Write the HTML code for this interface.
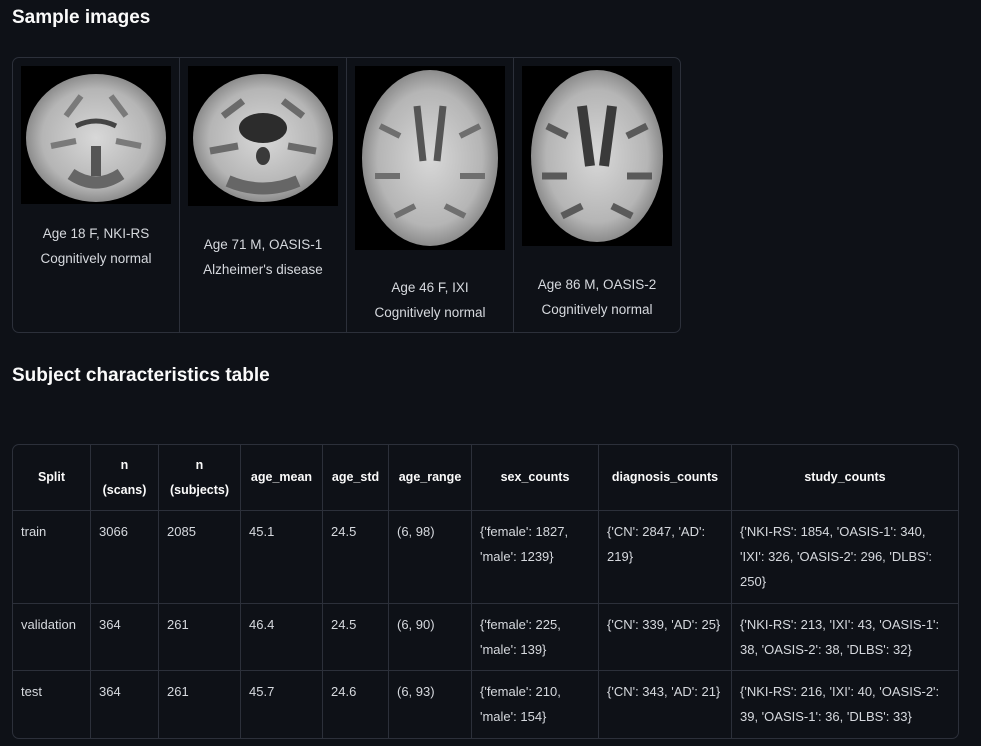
<!DOCTYPE html>
<html><head><meta charset="utf-8">
<style>
body{margin:0;background:#0e1117;width:981px;height:746px;overflow:hidden;font-family:"Liberation Sans",sans-serif;color:#fafafa;position:relative}
h2{position:absolute;left:12px;margin:0;font-size:19px;font-weight:bold;color:#fafafa}
.box{position:absolute;left:12px;top:57px;width:667px;height:274px;border:1px solid #2c303a;border-radius:7px}
.col{position:absolute;top:0;height:274px;width:166px;border-right:1px solid #2c303a}
.col:last-child{border-right:none}
.col svg{position:absolute;left:8px;top:8px}
.cap{position:absolute;left:0;width:166px;text-align:center;font-size:13.5px;line-height:25px;color:#d6d9de}
table{position:absolute;left:12px;top:444px;width:945px;table-layout:fixed;border-collapse:separate;border-spacing:0;border:1px solid #2c303a;border-radius:7px;font-size:13px;color:#d6d9de}
td,th{border-right:1px solid #2c303a;border-bottom:1px solid #2c303a;padding:0 8px;vertical-align:top;line-height:25px;text-align:left;overflow:hidden}
th{font-weight:bold;color:#fafafa;text-align:center;vertical-align:middle;height:65px;padding:0 4px;font-size:12.5px}
tr td:last-child,tr th:last-child{border-right:none}
tr:last-child td{border-bottom:none}
td{padding-top:8px}
</style></head><body>
<h2 style="top:7px">Sample images</h2>
<div class="box">
<svg width="0" height="0" style="position:absolute"><defs><radialGradient id="g" cx="50%" cy="50%" r="55%"><stop offset="0" stop-color="#d8d8d8"/><stop offset="0.7" stop-color="#b5b5b5"/><stop offset="1" stop-color="#7a7a7a"/></radialGradient></defs></svg>
<div class="col" style="left:0">
<svg width="150" height="138"><rect width="150" height="138" fill="#000"/><ellipse cx="75" cy="72" rx="70" ry="64" fill="url(#g)"/><path d="M45 50 L60 30 M105 50 L90 30 M30 80 L55 75 M120 80 L95 75" stroke="#7a7a7a" stroke-width="6"/><path d="M55 60 Q75 50 95 60" stroke="#444" stroke-width="5" fill="none"/><rect x="70" y="80" width="10" height="30" fill="#555"/><path d="M50 108 Q75 125 100 108" stroke="#666" stroke-width="12" fill="none"/></svg>
<div class="cap" style="top:163px">Age 18 F, NKI-RS<br>Cognitively normal</div></div>
<div class="col" style="left:167px">
<svg width="150" height="140"><rect width="150" height="140" fill="#000"/><ellipse cx="75" cy="72" rx="70" ry="64" fill="url(#g)"/><path d="M35 50 L55 35 M115 50 L95 35 M22 85 L50 80 M128 85 L100 80" stroke="#6a6a6a" stroke-width="7"/><ellipse cx="75" cy="62" rx="24" ry="15" fill="#2c2c2c"/><ellipse cx="75" cy="90" rx="7" ry="9" fill="#3a3a3a"/><path d="M40 115 Q75 130 110 115" stroke="#666" stroke-width="12" fill="none"/></svg>
<div class="cap" style="top:174px">Age 71 M, OASIS-1<br>Alzheimer's disease</div></div>
<div class="col" style="left:334px">
<svg width="150" height="184"><rect width="150" height="184" fill="#000"/><ellipse cx="75" cy="92" rx="68" ry="88" fill="url(#g)"/><path d="M62 40 L68 95 M88 40 L82 95" stroke="#555" stroke-width="7"/><path d="M25 60 L45 70 M125 60 L105 70 M20 110 L45 110 M130 110 L105 110 M40 150 L60 140 M110 150 L90 140" stroke="#6f6f6f" stroke-width="6"/></svg>
<div class="cap" style="top:217px">Age 46 F, IXI<br>Cognitively normal</div></div>
<div class="col" style="left:501px">
<svg width="150" height="180"><rect width="150" height="180" fill="#000"/><ellipse cx="75" cy="90" rx="66" ry="86" fill="url(#g)"/><path d="M60 40 L68 100 M90 40 L82 100" stroke="#3a3a3a" stroke-width="10"/><path d="M25 60 L45 70 M125 60 L105 70 M20 110 L45 110 M130 110 L105 110 M40 150 L60 140 M110 150 L90 140" stroke="#5a5a5a" stroke-width="7"/></svg>
<div class="cap" style="top:214px">Age 86 M, OASIS-2<br>Cognitively normal</div></div>
</div>
<h2 style="top:365px">Subject characteristics table</h2>
<table>
<colgroup><col style="width:78px"><col style="width:68px"><col style="width:82px"><col style="width:82px"><col style="width:66px"><col style="width:83px"><col style="width:127px"><col style="width:133px"><col style="width:226px"></colgroup>
<tr><th>Split</th><th>n<br>(scans)</th><th>n<br>(subjects)</th><th>age_mean</th><th>age_std</th><th>age_range</th><th>sex_counts</th><th>diagnosis_counts</th><th>study_counts</th></tr>
<tr style="height:93px"><td>train</td><td>3066</td><td>2085</td><td>45.1</td><td>24.5</td><td>(6, 98)</td><td>{'female': 1827, 'male': 1239}</td><td>{'CN': 2847, 'AD':<br>219}</td><td>{'NKI-RS': 1854, 'OASIS-1': 340, 'IXI': 326, 'OASIS-2': 296, 'DLBS': 250}</td></tr>
<tr style="height:67px"><td>validation</td><td>364</td><td>261</td><td>46.4</td><td>24.5</td><td>(6, 90)</td><td>{'female': 225, 'male': 139}</td><td>{'CN': 339, 'AD': 25}</td><td>{'NKI-RS': 213, 'IXI': 43, 'OASIS-1': 38, 'OASIS-2': 38, 'DLBS': 32}</td></tr>
<tr style="height:67px"><td>test</td><td>364</td><td>261</td><td>45.7</td><td>24.6</td><td>(6, 93)</td><td>{'female': 210, 'male': 154}</td><td>{'CN': 343, 'AD': 21}</td><td>{'NKI-RS': 216, 'IXI': 40, 'OASIS-2': 39, 'OASIS-1': 36, 'DLBS': 33}</td></tr>
</table>
</body></html>
